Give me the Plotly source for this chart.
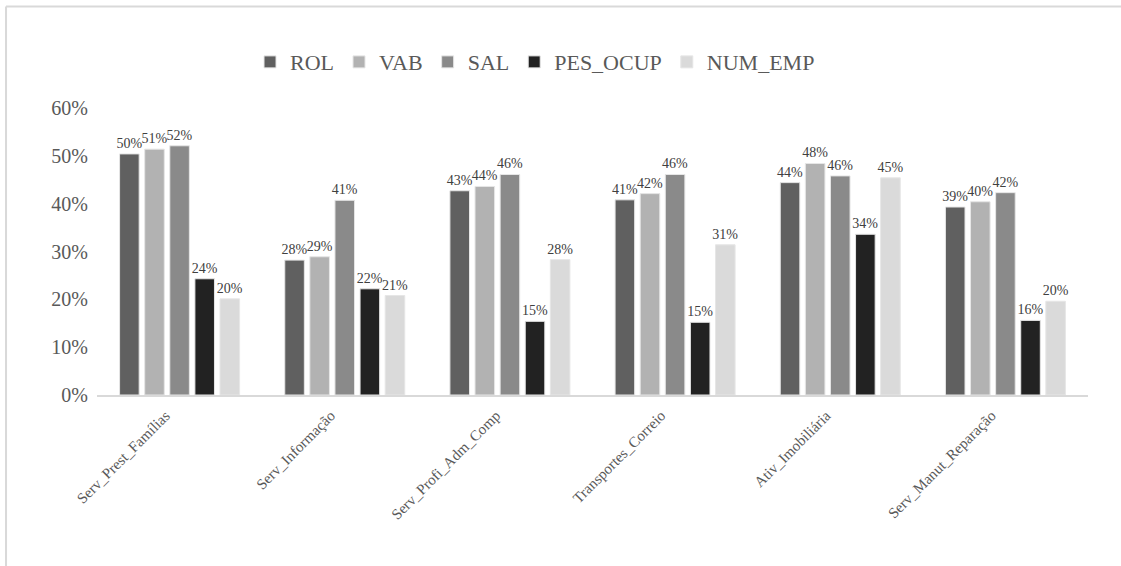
import plotly.graph_objects as go

categories = ["Serv_Prest_Famílias", "Serv_Informação", "Serv_Profi_Adm_Comp",
              "Transportes_Correio", "Ativ_Imobiliária", "Serv_Manut_Reparação"]

rol = [0.504, 0.282, 0.427, 0.408, 0.444, 0.393]
vab = [0.514, 0.289, 0.436, 0.421, 0.484, 0.404]
sal = [0.521, 0.407, 0.461, 0.461, 0.458, 0.423]
pes_ocup = [0.243, 0.222, 0.154, 0.152, 0.336, 0.156]
num_emp = [0.201, 0.208, 0.283, 0.314, 0.454, 0.196]

series = [
    ("ROL", rol, "#606060"),
    ("VAB", vab, "#b2b2b2"),
    ("SAL", sal, "#8a8a8a"),
    ("PES_OCUP", pes_ocup, "#222222"),
    ("NUM_EMP", num_emp, "#dadada"),
]

FONT = "Liberation Serif"

fig = go.Figure()
for name, vals, color in series:
    fig.add_trace(go.Bar(
        name=name, x=categories, y=vals,
        marker=dict(color=color, line=dict(color="#e6e6e6", width=1)),
        text=[f"{v*100:.0f}%" for v in vals],
        textposition="outside",
        constraintext="none",
        textfont=dict(family=FONT, size=14, color="#404040"),
        cliponaxis=False,
    ))

# light outer frame of the chart area
frame = dict(type="line", xref="paper", yref="paper",
             line=dict(color="#d9d9d9", width=2))
fig.add_shape(**frame, x0=-0.0918, x1=1.04, y0=1.3537, y1=1.3537)
fig.add_shape(**frame, x0=-0.0918, x1=-0.0918, y0=1.3537, y1=-0.62)

fig.update_layout(
    width=1121, height=566,
    margin=dict(l=97, r=33, t=108, b=171),
    paper_bgcolor="white", plot_bgcolor="white",
    barmode="group", bargap=0.24, bargroupgap=0.22,
    font=dict(family=FONT, color="#595959"),
    showlegend=True,
    legend=dict(orientation="h", x=0.442, xanchor="center", y=1.16, yanchor="middle",
                font=dict(family=FONT, size=22, color="#595959"),
                itemwidth=30, tracegroupgap=0),
    xaxis=dict(tickangle=-45, tickfont=dict(family=FONT, size=15, color="#595959"),
               showline=True, linecolor="#d9d9d9", linewidth=2, ticks="",
               showgrid=False, ticklabelshift=-14, ticklabelstandoff=4),
    yaxis=dict(range=[0, 0.6], dtick=0.1, tickformat=".0%",
               tickfont=dict(family=FONT, size=20, color="#595959"),
               showgrid=False, zeroline=False, showline=False, ticks="",
               ticklabelstandoff=8),
)

fig.write_html("out.html")
